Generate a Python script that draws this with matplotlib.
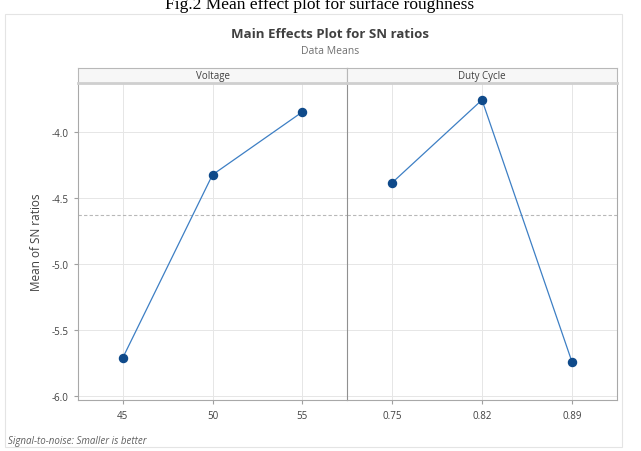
import numpy as np
import matplotlib
matplotlib.use("Agg")
import matplotlib.pyplot as plt
from matplotlib.patches import Rectangle

# data
voltage_levels = ["45", "50", "55"]
voltage_sn = [-5.71, -4.325, -3.85]
duty_levels = ["0.75", "0.82", "0.89"]
duty_sn = [-4.386, -3.758, -5.742]
grand_mean = -4.629
y_ticks = [-4.0, -4.5, -5.0, -5.5, -6.0]
panels = [("Voltage", voltage_levels, voltage_sn), ("Duty Cycle", duty_levels, duty_sn)]

W, H = 641, 452
fig = plt.figure(figsize=(W / 100, H / 100), dpi=100)
plt.rcParams['font.family'] = ['Open Sans', 'DejaVu Sans']


def box(x0, y0, x1, y1):
    """ pixel box (top-left origin) -> figure fraction rect """
    return [x0 / W, 1 - y1 / H, (x1 - x0) / W, (y1 - y0) / H]


# outer graph frame
fig.patches.append(Rectangle((5 / W, 1 - 448 / H), 617 / W, 433 / H, transform=fig.transFigure,
                             fill=False, edgecolor='#e4e4e4', lw=0.8))

# caption of the paper, cut at the top edge like in the source
fig.text(320 / W, 1 - 5 / H, "Fig.2 Mean effect plot for surface roughness", family='Liberation Serif',
         fontsize=12.5, ha='center', va='center', color='black')

fig.text(330 / W, 1 - 34 / H, "Main Effects Plot for SN ratios", fontsize=9.5, fontweight='bold',
         ha='center', va='center', color='#404040')
fig.text(330 / W, 1 - 51 / H, "Data Means", fontsize=7.5, ha='center', va='center', color='#707070')

lefts = [78, 347]
rights = [347, 617]
ylim = (-6.03, -3.63)

for i, (name, labels, vals) in enumerate(panels):
    ax = fig.add_axes(box(lefts[i], 84, rights[i], 401))
    x = np.arange(len(vals))
    ax.plot(x, vals, color='#3d7fc4', lw=0.9, zorder=3)
    ax.plot(x, vals, 'o', color='#0f4a8a', ms=5.8, zorder=4)
    ax.axhline(grand_mean, color='#b8b8b8', ls=(0, (3, 2)), lw=0.8, zorder=2)
    ax.set_xlim(-0.5, 2.5)
    ax.set_ylim(*ylim)
    ax.set_xticks(x)
    ax.set_xticklabels(labels, fontsize=7, color='#404040')
    ax.set_yticks(y_ticks)
    ax.grid(True, color='#e6e6e6', lw=0.7, zorder=0)
    ax.tick_params(length=3, color='#a0a0a0', pad=4)
    for side, sp in ax.spines.items():
        sp.set_color('#a8a8a8')
        sp.set_linewidth(0.8)
    if i == 0:
        ax.set_yticklabels(["%.1f" % t for t in y_ticks], fontsize=7, color='#404040')
        ax.set_ylabel("Mean of SN ratios", fontsize=8.5, color='#404040', labelpad=6)
        ax.spines['right'].set_visible(False)
    else:
        ax.tick_params(axis='y', left=False, labelleft=False)
        ax.spines['left'].set_color('#909090')

    # panel strip
    sx = fig.add_axes(box(lefts[i], 69, rights[i], 84))
    sx.set_xticks([])
    sx.set_yticks([])
    sx.set_facecolor('#f7f7f7')
    for side, sp in sx.spines.items():
        sp.set_color('#b8b8b8')
        sp.set_linewidth(0.8)
    sx.spines['bottom'].set_linewidth(2.0)
    sx.spines['bottom'].set_color('#cfcfcf')
    sx.text(0.5, 0.5, name, fontsize=7, color='#404040', ha='center', va='center',
            transform=sx.transAxes)

fig.text(8 / W, 1 - 442 / H, "Signal-to-noise: Smaller is better", fontsize=7, style='italic',
         color='#606060', ha='left', va='center')

fig.savefig("out.png", dpi=100)
